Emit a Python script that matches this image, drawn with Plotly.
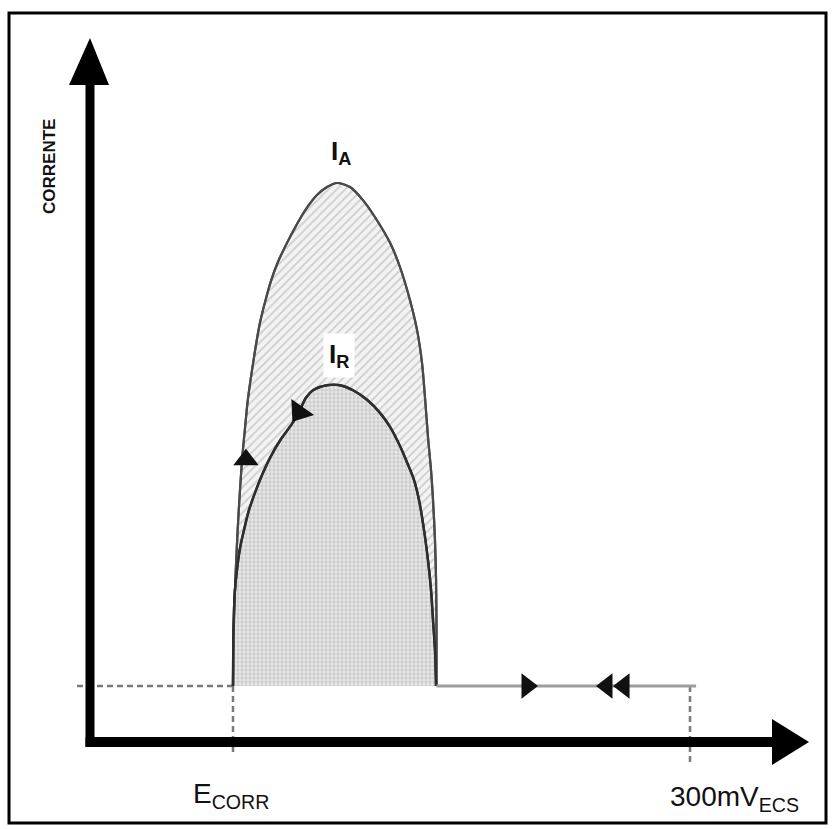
import plotly.graph_objects as go

# ---- data (potential in mV relative to E_corr, current in arbitrary units) ----
E_CORR = 0
E_END = 300

# Anodic (forward) scan loop, peak current I_A
IA_E = [0, 0.33, 1.3, 2.4, 3.6, 4.9, 6.2, 7.9, 9.5, 11.5, 13.5, 15.4, 17.7,
        21.0, 24.9, 29.5, 34.8, 41.4, 47.9, 55.1, 61.7, 68.3, 76.8, 85.3,
        94.5, 103.1, 109.6, 116.2, 120.8, 124.1, 126.0, 128.0, 130.0, 131.3,
        132.6, 133.3, 133.6, 133.6]
IA_I = [0, 9.1, 19.1, 27.0, 34.0, 40.4, 45.9, 51.3, 56.3, 60.8, 64.8, 68.4,
        72.2, 76.3, 80.5, 84.3, 87.7, 91.5, 94.8, 97.6, 99.2, 100, 99.2,
        96.6, 92.6, 88.1, 83.3, 76.7, 70.8, 64.2, 57.5, 49.5, 42.9, 37.0,
        29.0, 21.1, 11.1, 0]

# Reactivation (reverse) scan loop, peak current I_R
IR_E = [0, 0.2, 0.66, 1.3, 2.6, 4.6, 7.2, 10.5, 14.4, 19.0, 24.9, 31.5, 38.7,
        44.0, 47.9, 52.5, 61.7, 70.2, 78.8, 88.0, 96.5, 103.1, 109.6, 114.2,
        118.8, 122.1, 125.4, 128.0, 130.0, 131.3, 132.6, 133.3]
IR_I = [0, 9.1, 15.1, 19.1, 23.1, 27.4, 31.0, 35.0, 38.4, 41.9, 45.7, 49.1,
        52.1, 54.9, 57.3, 58.8, 59.8, 59.8, 58.8, 56.9, 54.3, 51.5, 47.7,
        44.5, 41.0, 37.0, 31.0, 25.0, 19.1, 13.1, 7.2, 0]

# Passive plateau between the loop and the reversal potential
PLATEAU_E = [133.6, E_END + 4]
PLATEAU_I = [0, 0]

# Scan-direction arrows along the curves
ARROW_UP = (8.5, 45)            # anodic sweep, rising branch
ARROW_REV = (43.5, 54.5)        # reverse sweep, on the I_R branch
# Scan-direction arrows on the plateau
FWD_E = [193]
BACK_E = [245.5, 256.7]

# ---- canvas mapping (pixels per unit) ----
W, H = 832, 829
X0_PX, KX = 233, 457 / 300      # px of E_corr, px per mV
Y0_PX, KY = 686, 5.03           # px of zero current, px per current unit


def ex(px):
    return (px - X0_PX) / KX


def iy(py):
    return (Y0_PX - py) / KY


AXIS_E = ex(90)     # position of the current axis
AXIS_I = iy(742)    # position of the potential axis

fig = go.Figure()

# shaded loops
fig.add_trace(go.Scatter(
    x=IA_E, y=IA_I, mode="lines", fill="toself", line_shape="spline",
    line=dict(color="#4a4a4a", width=2.2, smoothing=0.8),
    fillcolor="#f0f0f0",
    fillpattern=dict(shape="/", fgcolor="#a8a8a8", bgcolor="#f3f3f3",
                     size=6, solidity=0.3),
    hoverinfo="skip", showlegend=False))
fig.add_trace(go.Scatter(
    x=IR_E, y=IR_I, mode="lines", fill="toself", line_shape="spline",
    line=dict(color="#2e2e2e", width=2.4, smoothing=0.8),
    fillcolor="#e0e0e0",
    fillpattern=dict(shape=".", fgcolor="#b2b2b2", bgcolor="#e8e8e8",
                     size=4, solidity=0.55),
    hoverinfo="skip", showlegend=False))
# outlines on top of both fills
fig.add_trace(go.Scatter(
    x=IA_E, y=IA_I, mode="lines", line_shape="spline",
    line=dict(color="#4a4a4a", width=2.2, smoothing=0.8),
    hoverinfo="skip", showlegend=False))
fig.add_trace(go.Scatter(
    x=IR_E, y=IR_I, mode="lines", line_shape="spline",
    line=dict(color="#2e2e2e", width=2.4, smoothing=0.8),
    hoverinfo="skip", showlegend=False))

# plateau
fig.add_trace(go.Scatter(
    x=PLATEAU_E, y=PLATEAU_I, mode="lines",
    line=dict(color="#9c9c9c", width=3),
    hoverinfo="skip", showlegend=False))

# direction arrows
arrow_style = dict(size=22, color="#111111", line=dict(width=0))
fig.add_trace(go.Scatter(
    x=[ARROW_UP[0]], y=[ARROW_UP[1]], mode="markers",
    marker=dict(symbol="triangle-up", **arrow_style),
    hoverinfo="skip", showlegend=False))
fig.add_trace(go.Scatter(
    x=[ARROW_REV[0]], y=[ARROW_REV[1]], mode="markers",
    marker=dict(symbol="triangle-down", angle=35, size=24, color="#111111",
                line=dict(width=0)),
    hoverinfo="skip", showlegend=False))
fig.add_trace(go.Scatter(
    x=FWD_E, y=[0] * len(FWD_E), mode="markers",
    marker=dict(symbol="triangle-right", **arrow_style),
    hoverinfo="skip", showlegend=False))
fig.add_trace(go.Scatter(
    x=BACK_E, y=[0] * len(BACK_E), mode="markers",
    marker=dict(symbol="triangle-left", **arrow_style),
    hoverinfo="skip", showlegend=False))

shapes = []
dash_line = dict(color="#7a7a7a", width=2.5, dash="6px,4px")
# dashed references
shapes.append(dict(type="line", xref="x", yref="y", x0=ex(77), y0=0,
                   x1=E_CORR, y1=0, line=dash_line, layer="below"))
shapes.append(dict(type="line", xref="x", yref="y", x0=E_CORR, y0=0,
                   x1=E_CORR, y1=iy(756), line=dash_line, layer="below"))
shapes.append(dict(type="line", xref="x", yref="y", x0=E_END, y0=0,
                   x1=E_END, y1=iy(763), line=dash_line, layer="below"))

# axes with arrow heads
shapes.append(dict(type="line", xref="x", yref="y", x0=AXIS_E, y0=iy(747),
                   x1=AXIS_E, y1=iy(80), line=dict(color="black", width=9)))
shapes.append(dict(type="line", xref="x", yref="y", x0=ex(85.5), y0=AXIS_I,
                   x1=ex(776), y1=AXIS_I, line=dict(color="black", width=10)))
shapes.append(dict(
    type="path", xref="x", yref="y", fillcolor="black", line=dict(width=0),
    path=f"M {ex(69)},{iy(85)} L {AXIS_E},{iy(38)} L {ex(109)},{iy(85)} Z"))
shapes.append(dict(
    type="path", xref="x", yref="y", fillcolor="black", line=dict(width=0),
    path=f"M {ex(772)},{iy(719)} L {ex(809)},{AXIS_I} L {ex(772)},{iy(765)} Z"))

# frame
shapes.append(dict(type="rect", xref="paper", yref="paper",
                   x0=9 / W, x1=826 / W, y0=1 - 823 / H, y1=1 - 13 / H,
                   line=dict(color="black", width=3)))

font_main = "Liberation Sans, Arial, sans-serif"
annotations = [
    dict(x=ex(341), y=iy(152), text="<b>I<sub>A</sub></b>", showarrow=False,
         font=dict(family=font_main, size=26, color="#111111")),
    dict(x=ex(339), y=iy(355), text="<b>I<sub>R</sub></b>", showarrow=False,
         bgcolor="white", borderpad=5,
         font=dict(family=font_main, size=26, color="#111111")),
    dict(x=ex(49), y=iy(167), text="<b>CORRENTE</b>", showarrow=False,
         textangle=-90, font=dict(family=font_main, size=17, color="#111111")),
    dict(x=ex(231), y=iy(795), text="E<sub>CORR</sub>", showarrow=False,
         font=dict(family=font_main, size=28, color="#111111")),
    dict(x=ex(734), y=iy(798), text="300mV<sub>ECS</sub>", showarrow=False,
         font=dict(family=font_main, size=28, color="#111111")),
]

fig.update_layout(
    width=W, height=H, margin=dict(l=0, r=0, t=0, b=0),
    paper_bgcolor="white", plot_bgcolor="white",
    xaxis=dict(range=[ex(0), ex(W)], visible=False, fixedrange=True),
    yaxis=dict(range=[iy(H), iy(0)], visible=False, fixedrange=True),
    shapes=shapes, annotations=annotations, showlegend=False,
)

fig.write_html("out.html")
